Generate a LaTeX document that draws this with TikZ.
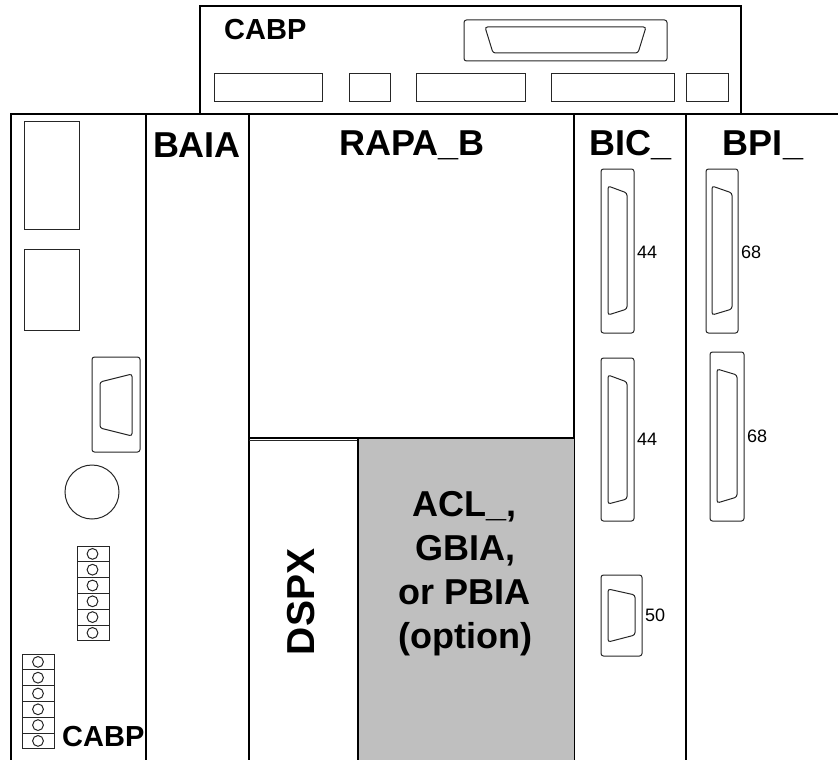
\documentclass[tikz,border=0pt]{standalone}
\usepackage{fontspec}
\setmainfont{Liberation Sans}
\usepackage{tikz}
\begin{document}
\begin{tikzpicture}[
    x=1pt, y=-1pt,
    panel/.style={draw, line width=1.1pt},
    part/.style={draw=black!85, line width=1pt},
    conn/.style={draw=black!85, line width=1pt, rounded corners=2.5pt},
    title/.style={font=\bfseries\fontsize{36}{44}\selectfont, align=center, inner sep=0pt},
    smalltitle/.style={font=\bfseries\fontsize{29}{34}\selectfont, inner sep=0pt},
    pinnum/.style={font=\fontsize{18}{20}\selectfont, inner sep=0pt, anchor=west}
  ]
    \useasboundingbox (0,0) rectangle (838,760);
    % top board
    \draw[panel] (200,114) -- (200,6) -- (741,6) -- (741,114);
    \draw[panel] (11,760) -- (11,114) -- (838,114);
    \foreach \xa/\xb in {214/322, 349/390, 416/525, 551/674, 686/728}
      \draw[part] (\xa,74) rectangle (\xb,101);
    \draw[conn] (464,20) rectangle (667,61);
    \draw[conn] (485,27) -- (646,27) -- (638,53) -- (493,53) -- cycle;
    \node[smalltitle, anchor=west] (cabptop) at (224,30) {CABP};
    % columns
    \foreach \x in {146,249,574,686}
      \draw[panel] (\x,114) -- (\x,760);
    \fill[black!25] (358,438) rectangle (574,760);
    \draw[panel] (249,438) -- (574,438);
    \draw[part] (249,440) -- (358,440);
    \draw[panel] (358,438) -- (358,760);
    \node[title] (baia) at (197,145) {BAIA};
    \node[title] (rapa) at (412,145) {RAPA\_B};
    \node[title] (bic) at (631,145) {BIC\_};
    \node[title] (bpi) at (763,145) {BPI\_};
    \node[title, font=\bfseries\fontsize{39}{44}\selectfont, rotate=90] (dspx) at (301,602) {DSPX};
    \node[title] (acl) at (465,574) {ACL\_,\\GBIA,\\or PBIA\\(option)};
    % left column
    \draw[part] (24,121) rectangle (79,229);
    \draw[part] (24,249) rectangle (79,330);
    \draw[conn] (92,357) rectangle (140,452);
    \draw[conn] (100,382) -- (132,374) -- (132,436) -- (100,428) -- cycle;
    \draw[part] (92,492) circle (27);
    \foreach \n in {0,...,5} {
      \draw[part] (77,546+\n*15.8) rectangle (109,561.8+\n*15.8);
      \draw[part] (92.5,553.9+\n*15.8) circle (5.4);
      \draw[part] (22,654+\n*15.8) rectangle (54,669.8+\n*15.8);
      \draw[part] (38,661.9+\n*15.8) circle (5.4);
    }
    \node[smalltitle, anchor=west] (cabpbot) at (62,737) {CABP};
    % connectors on the right
    \draw[conn] (601,169) rectangle (634,333);
    \draw[conn] (608,186) -- (627,193) -- (627,309) -- (608,315) -- cycle;
    \node[pinnum] (pina) at (637,252) {44};
    \draw[conn] (601,358) rectangle (634,521);
    \draw[conn] (608,375) -- (627,382) -- (627,499) -- (608,504) -- cycle;
    \node[pinnum] (pinb) at (637,439) {44};
    \draw[conn] (601,575) rectangle (642,656);
    \draw[conn] (608,589) -- (635,595) -- (635,635) -- (608,642) -- cycle;
    \node[pinnum] (pinc) at (645,615) {50};
    \draw[conn] (706,169) rectangle (738,333);
    \draw[conn] (712,186) -- (732,193) -- (732,309) -- (712,315) -- cycle;
    \node[pinnum] (pind) at (741,252) {68};
    \draw[conn] (710,352) rectangle (744,521);
    \draw[conn] (717,369) -- (737,375) -- (737,497) -- (717,503) -- cycle;
    \node[pinnum] (pine) at (747,436) {68};
\end{tikzpicture}
\end{document}
